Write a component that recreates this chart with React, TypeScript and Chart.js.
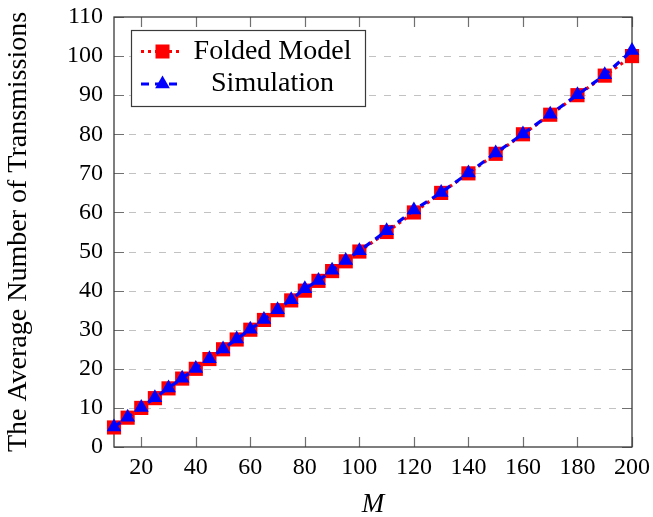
import React, { useEffect, useRef } from 'react';
import { Chart, registerables } from 'chart.js';

Chart.register(...registerables);

// ---------- data ----------
const mValues = [10, 15, 20, 25, 30, 35, 40, 45, 50, 55, 60, 65, 70, 75, 80, 85, 90, 95, 100, 110, 120, 130, 140, 150, 160, 170, 180, 190, 200];
const foldedModel = [5, 7.5, 10, 12.5, 15, 17.5, 20, 22.5, 25, 27.5, 30, 32.5, 35, 37.5, 40, 42.5, 45, 47.5, 50, 55, 60, 65, 70, 75, 80, 85, 90, 95, 100];
const simulation = [5.1, 7.6, 10.1, 12.6, 15.1, 17.6, 20.1, 22.6, 25.1, 27.6, 30.1, 32.6, 35.1, 37.7, 40.5, 42.6, 45.2, 47.7, 50.2, 55.3, 60.6, 65.1, 70.1, 75.2, 80.1, 85.1, 90.1, 95.2, 101.4];
const xTickValues = [20, 40, 60, 80, 100, 120, 140, 160, 180, 200];
const yTickValues = [0, 10, 20, 30, 40, 50, 60, 70, 80, 90, 100, 110];
const seriesNames = ['Folded Model', 'Simulation'];
const xTitle = 'M';
const yTitle = 'The Average Number of Transmissions';

const FONT = '"Liberation Serif", "Times New Roman", serif';
const RED = '#ff0000';
const BLUE = '#0000ff';

const framePlugin = {
  id: 'pgfFrame',
  beforeDatasetsDraw(chart: any) {
    const { ctx, chartArea: a, scales } = chart;
    const xs = scales.x;
    const ys = scales.y;
    ctx.save();
    // dashed horizontal grid
    ctx.strokeStyle = '#c2c2c2';
    ctx.lineWidth = 1.2;
    ctx.setLineDash([7, 8]);
    for (const v of yTickValues) {
      if (v === yTickValues[0] || v === yTickValues[yTickValues.length - 1]) continue;
      const py = Math.round(ys.getPixelForValue(v)) + 0.5;
      ctx.beginPath();
      ctx.moveTo(a.left, py);
      ctx.lineTo(a.right, py);
      ctx.stroke();
    }
    ctx.setLineDash([]);
    // inner ticks
    ctx.strokeStyle = '#707070';
    ctx.lineWidth = 1.2;
    const tl = 10;
    for (const v of xTickValues) {
      const px = Math.round(xs.getPixelForValue(v)) + 0.5;
      ctx.beginPath();
      ctx.moveTo(px, a.bottom);
      ctx.lineTo(px, a.bottom - tl);
      ctx.moveTo(px, a.top);
      ctx.lineTo(px, a.top + tl);
      ctx.stroke();
    }
    for (const v of yTickValues) {
      const py = Math.round(ys.getPixelForValue(v)) + 0.5;
      ctx.beginPath();
      ctx.moveTo(a.left, py);
      ctx.lineTo(a.left + tl, py);
      ctx.moveTo(a.right, py);
      ctx.lineTo(a.right - tl, py);
      ctx.stroke();
    }
    // frame
    ctx.strokeStyle = '#3a3a3a';
    ctx.lineWidth = 1.3;
    ctx.strokeRect(a.left, a.top, a.right - a.left, a.bottom - a.top);
    ctx.restore();
  },
};

const legendPlugin = {
  id: 'pgfLegend',
  afterDatasetsDraw(chart: any) {
    const { ctx } = chart;
    ctx.save();
    const bx = 131.5, by = 30.5, bw = 234, bh = 76;
    ctx.fillStyle = '#ffffff';
    ctx.fillRect(bx, by, bw, bh);
    ctx.strokeStyle = '#3a3a3a';
    ctx.lineWidth = 1.2;
    ctx.strokeRect(bx, by, bw, bh);

    const rows = [51.5, 84];
    const sx0 = 141, sx1 = 183, mx = 162.5;
    // row 1: red dotted + square
    ctx.strokeStyle = RED;
    ctx.lineWidth = 3.2;
    ctx.setLineDash([3, 4]);
    ctx.beginPath();
    ctx.moveTo(sx0, rows[0]);
    ctx.lineTo(sx1, rows[0]);
    ctx.stroke();
    ctx.setLineDash([]);
    ctx.fillStyle = RED;
    ctx.fillRect(mx - 7, rows[0] - 7, 14, 14);
    // row 2: blue dashed + triangle
    ctx.strokeStyle = BLUE;
    ctx.setLineDash([8, 6]);
    ctx.beginPath();
    ctx.moveTo(sx0, rows[1]);
    ctx.lineTo(sx1, rows[1]);
    ctx.stroke();
    ctx.setLineDash([]);
    ctx.fillStyle = BLUE;
    const r = 8.5;
    ctx.beginPath();
    ctx.moveTo(mx, rows[1] - r);
    ctx.lineTo(mx + r * Math.sin((2 * Math.PI) / 3), rows[1] + r / 2);
    ctx.lineTo(mx - r * Math.sin((2 * Math.PI) / 3), rows[1] + r / 2);
    ctx.closePath();
    ctx.fill();

    ctx.fillStyle = '#000';
    ctx.font = `28px ${FONT}`;
    ctx.textAlign = 'center';
    ctx.textBaseline = 'middle';
    ctx.fillText(seriesNames[0], 272.5, rows[0]);
    ctx.fillText(seriesNames[1], 272.5, rows[1]);
    ctx.restore();
  },
};

const zeroPadding = (scale: any) => {
  scale.paddingTop = 0;
  scale.paddingBottom = 0;
  scale.paddingLeft = 0;
  scale.paddingRight = 0;
};

export default function App() {
  const canvasRef = useRef<HTMLCanvasElement | null>(null);

  useEffect(() => {
    document.body.style.margin = '0';
    const canvas = canvasRef.current;
    if (!canvas) return;
    const chart = new Chart(canvas, {
      type: 'line',
      data: {
        datasets: [
          {
            label: seriesNames[0],
            data: mValues.map((m, i) => ({ x: m, y: foldedModel[i] })),
            borderColor: RED,
            backgroundColor: RED,
            borderWidth: 3.2,
            borderDash: [3, 4],
            pointStyle: 'rect',
            pointRadius: 10,
            pointBorderWidth: 0,
            pointBackgroundColor: RED,
            pointBorderColor: RED,
            tension: 0,
            clip: false,
            order: 1,
          },
          {
            label: seriesNames[1],
            data: mValues.map((m, i) => ({ x: m, y: simulation[i] })),
            borderColor: BLUE,
            backgroundColor: BLUE,
            borderWidth: 3.2,
            borderDash: [8, 6],
            pointStyle: 'triangle',
            pointRadius: 8.5,
            pointBorderWidth: 0,
            pointBackgroundColor: BLUE,
            pointBorderColor: BLUE,
            tension: 0,
            clip: false,
            order: 0,
          },
        ],
      },
      options: {
        animation: false,
        responsive: false,
        maintainAspectRatio: false,
        layout: { padding: { left: 0, top: 17, right: 21, bottom: 0 } },
        plugins: {
          legend: { display: false },
          tooltip: { enabled: false },
          title: { display: false },
        },
        scales: {
          x: {
            type: 'linear',
            min: 10,
            max: 200,
            grid: { display: false, drawTicks: false, tickLength: 0 },
            border: { display: false },
            afterBuildTicks: (scale: any) => {
              scale.ticks = xTickValues.map((v) => ({ value: v }));
            },
            afterFit: (scale: any) => {
              scale.height = 70;
              zeroPadding(scale);
            },
            ticks: {
              color: '#000',
              padding: 6,
              maxRotation: 0,
              autoSkip: false,
              font: { family: FONT, size: 24 },
            },
            title: {
              display: true,
              text: xTitle,
              color: '#000',
              font: { family: FONT, size: 27, style: 'italic', lineHeight: 0.9 },
              padding: { top: 0, bottom: 0 },
            },
          },
          y: {
            type: 'linear',
            min: 0,
            max: 110,
            grid: { display: false, drawTicks: false, tickLength: 0 },
            border: { display: false },
            afterBuildTicks: (scale: any) => {
              scale.ticks = yTickValues.map((v) => ({ value: v }));
            },
            afterFit: (scale: any) => {
              scale.width = 114;
              zeroPadding(scale);
            },
            ticks: {
              color: '#000',
              padding: 11,
              autoSkip: false,
              font: { family: FONT, size: 24 },
            },
            title: {
              display: true,
              text: yTitle,
              color: '#000',
              font: { family: FONT, size: 28 },
              padding: { top: 2, bottom: 0 },
            },
          },
        },
      },
      plugins: [framePlugin, legendPlugin],
    });
    return () => chart.destroy();
  }, []);

  return (
    <div style={{ width: 653, height: 517 }}>
      <canvas ref={canvasRef} width={653} height={517} style={{ display: 'block' }} />
    </div>
  );
}
